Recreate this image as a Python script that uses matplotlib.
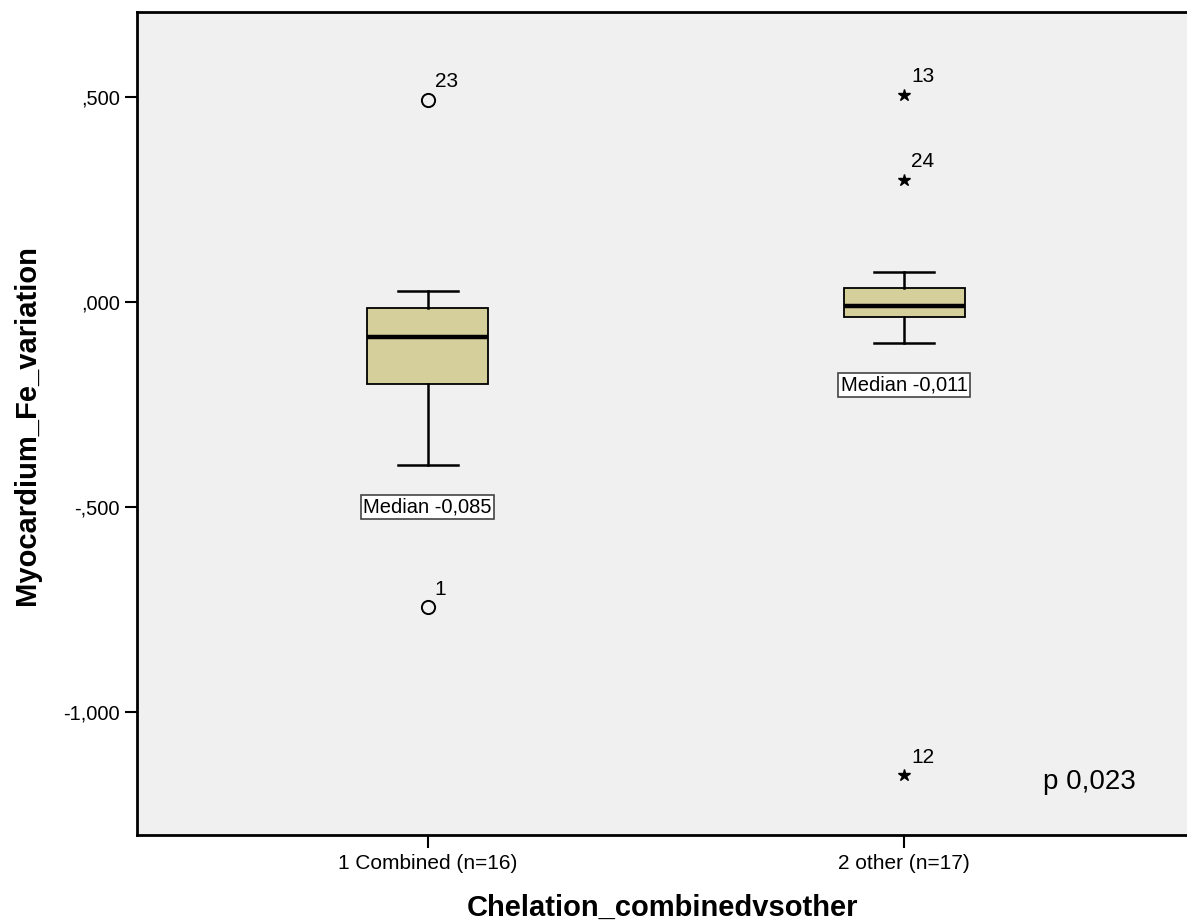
import matplotlib
matplotlib.use("Agg")
import matplotlib.pyplot as plt

plt.rcParams['font.family'] = ['Liberation Sans', 'DejaVu Sans']

# box statistics
groups = ["1 Combined (n=16)", "2 other (n=17)"]
whislo = [-0.398, -0.100]
q1 = [-0.200, -0.037]
med = [-0.085, -0.011]
q3 = [-0.015, 0.034]
whishi = [0.027, 0.073]
median_labels = ["Median -0,085", "Median -0,011"]

# outliers: group index, value, case id, kind
out_group = [0, 0, 1, 1, 1]
out_value = [0.493, -0.744, 0.505, 0.298, -1.154]
out_case = ["23", "1", "13", "24", "12"]
out_kind = ["o", "o", "*", "*", "*"]

yticks = [0.5, 0.0, -0.5, -1.0]
ytick_labels = [",500", ",000", "-,500", "-1,000"]


def main():
    fig = plt.figure(figsize=(11.87, 9.24), dpi=100)
    ax = fig.add_axes([137 / 1187, 1 - 835 / 924, (1195 - 137) / 1187, (835 - 12) / 924])
    ax.set_facecolor("#f0f0f0")

    stats = []
    for i in range(len(groups)):
        stats.append({"whislo": whislo[i], "q1": q1[i], "med": med[i],
                      "q3": q3[i], "whishi": whishi[i], "fliers": []})
    pos = [1, 2]
    ax.bxp(stats, positions=pos, widths=0.254, patch_artist=True,
           showfliers=False, capwidths=0.126,
           boxprops=dict(facecolor="#d5cf9c", edgecolor="black", linewidth=1.3),
           medianprops=dict(color="black", linewidth=3.2),
           whiskerprops=dict(color="black", linewidth=1.8),
           capprops=dict(color="black", linewidth=1.8))

    for i in range(len(groups)):
        ax.annotate(median_labels[i], xy=(pos[i], whislo[i]), xytext=(0, -30),
                    textcoords="offset points", ha="center", va="center",
                    fontsize=14.5,
                    bbox=dict(boxstyle="square,pad=0.12", facecolor="white",
                              edgecolor="#444444", linewidth=1.2))

    for g, v, c, k in zip(out_group, out_value, out_case, out_kind):
        x = pos[g]
        if k == "o":
            ax.plot(x, v, marker="o", markersize=9.5, markerfacecolor="none",
                    markeredgecolor="black", markeredgewidth=1.4, linestyle="none")
        else:
            ax.plot(x, v, marker="*", markersize=9, color="black", linestyle="none")
        ax.annotate(c, xy=(x, v), xytext=(5, 6), textcoords="offset points",
                    ha="left", va="bottom", fontsize=15)

    ax.text(2.292, -1.17, "p 0,023", fontsize=20, ha="left", va="center")

    ax.set_xlim(0.39, 2.61)
    ax.set_ylim(-1.30, 0.707)
    ax.set_xticks(pos)
    ax.set_xticklabels(groups, fontsize=15)
    ax.set_yticks(yticks)
    ax.set_yticklabels(ytick_labels, fontsize=14.5)
    ax.tick_params(direction="out", length=9, width=1.5, color="black")
    ax.tick_params(axis="x", pad=5)
    for s in ax.spines.values():
        s.set_linewidth(2)
        s.set_color("black")

    ax.set_xlabel("Chelation_combinedvsother", fontsize=21, fontweight="bold")
    ax.set_ylabel("Myocardium_Fe_variation", fontsize=21, fontweight="bold")
    ax.xaxis.set_label_coords(0.497, -0.072)
    ax.yaxis.set_label_coords(-0.091, 0.498)

    fig.savefig("out.png", dpi=100)


if __name__ == "__main__":
    main()
